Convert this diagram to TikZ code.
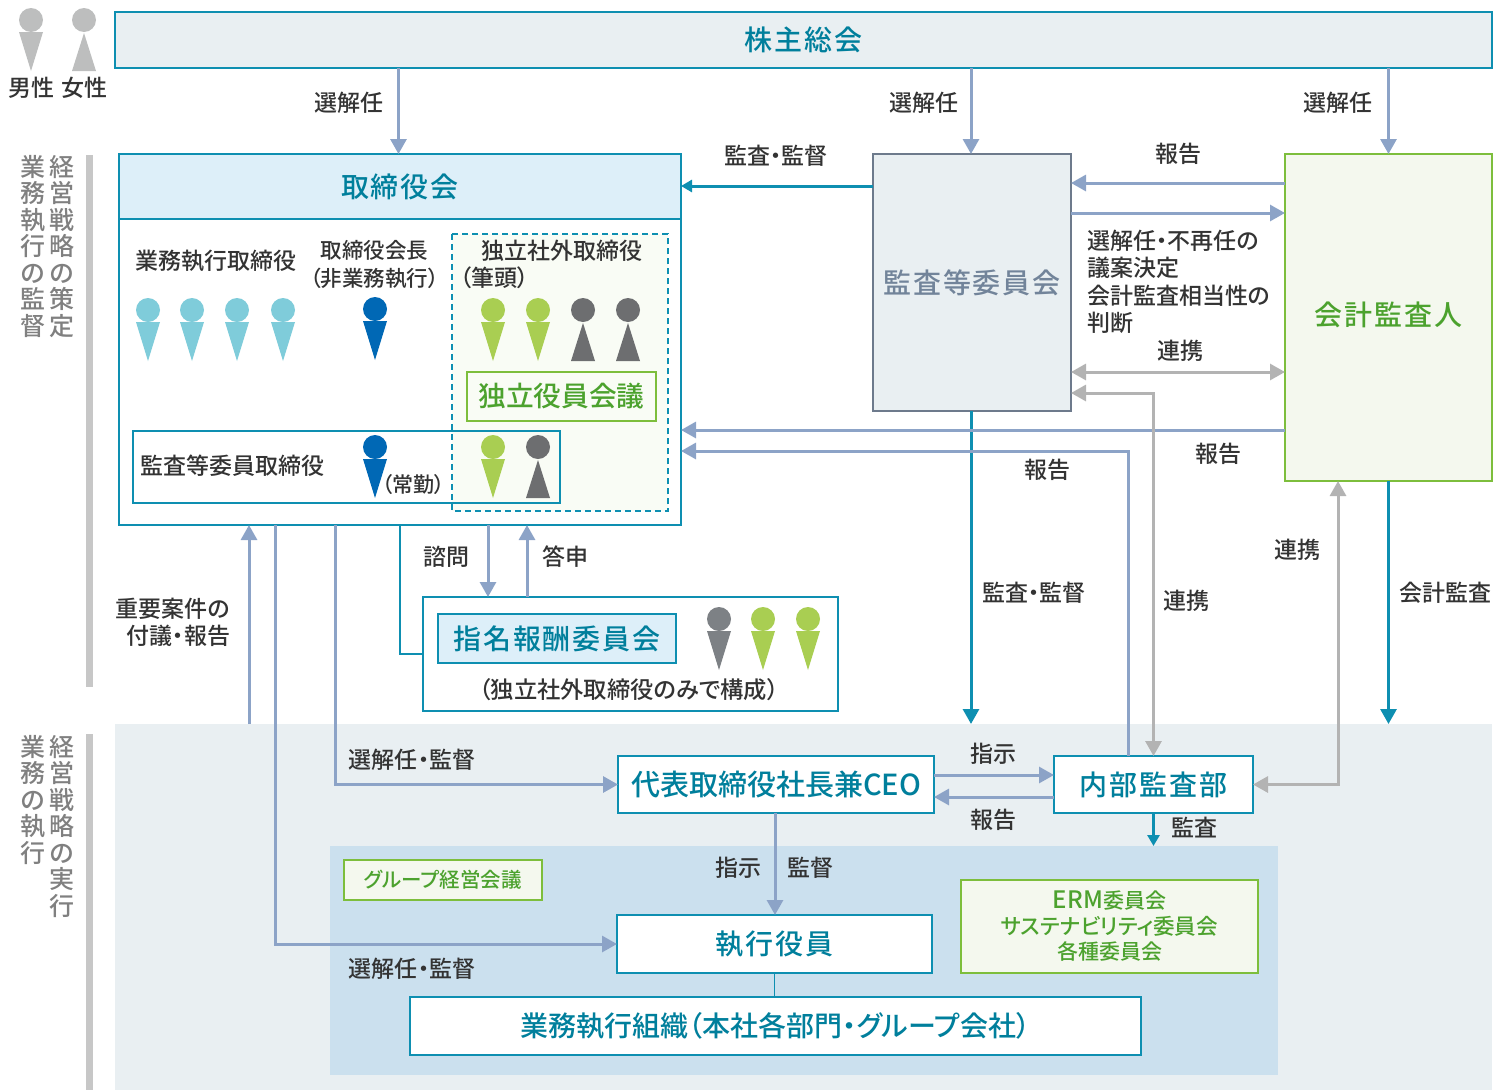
\documentclass[tikz,border=0pt]{standalone}
\usepackage{fontspec}
\setmainfont[RawFeature={+palt}]{Noto Sans CJK JP Medium}
\newfontfamily\wide[RawFeature={+palt},LetterSpace=7]{Noto Sans CJK JP Medium}
\usetikzlibrary{arrows.meta,calc}
\tikzset{>={Triangle[width=16pt,length=15pt]}}
\definecolor{teal}{HTML}{0E8FB1}
\definecolor{tealtext}{HTML}{007F9C}
\definecolor{steel}{HTML}{8CA3C7}
\definecolor{pale}{HTML}{E9EFF2}
\definecolor{sky}{HTML}{DDEFF9}
\definecolor{panel}{HTML}{CBE0EE}
\definecolor{lime}{HTML}{7DBE3C}
\definecolor{limefill}{HTML}{F4F8EE}
\definecolor{limepale}{HTML}{F9FCF5}
\definecolor{limetext}{HTML}{4CA22E}
\definecolor{slate}{HTML}{6D7A8C}
\definecolor{slatetext}{HTML}{72849A}
\definecolor{ash}{HTML}{B3B3B3}
\definecolor{aqua}{HTML}{7FCCDA}
\definecolor{navy}{HTML}{0068B5}
\definecolor{leaf}{HTML}{A9CE52}
\definecolor{coal}{HTML}{6D6E70}
\definecolor{iron}{HTML}{7D8185}
\definecolor{legend}{HTML}{BDBEBE}
\colorlet{ink}{black!80}
\tikzset{
  box/.style={draw=teal,line width=1.8,fill=white,inner sep=0,outer sep=0,text=tealtext,align=center},
  greenbox/.style={box,draw=lime,fill=limefill,text=limetext},
  small/.style={font=\fontsize{23}{27.2}\selectfont,text=ink,inner sep=0,align=left},
  big/.style={font=\wide\fontsize{28}{32}\selectfont},
  side/.style={font=\fontsize{25}{26.5}\selectfont,text=black!50,inner sep=0,align=center,anchor=north},
  link/.style={->,line width=3,steel},
  tie/.style={->,line width=3,teal},
  tiesmall/.style={-{Triangle[width=12pt,length=11pt]},line width=3,teal},
  mutual/.style={<->,line width=3,ash}
}
\def\man#1#2#3{
  \fill[#3] (#1,#2) circle (12);
  \fill[#3] (#1-12,#2+12) -- (#1+12,#2+12) -- (#1,#2+51) -- cycle;
}
\def\woman#1#2#3{
  \fill[#3] (#1,#2) circle (12);
  \fill[#3] (#1,#2+13) -- (#1+12,#2+51) -- (#1-12,#2+51) -- cycle;
}
\begin{document}
\begin{tikzpicture}[x=1pt,y=-1pt]
  \useasboundingbox (0,0) rectangle (1505,1090);

  % PANELS
  \fill[pale] (115,724) rectangle (1492,1090);
  \fill[panel] (330,846) rectangle (1278,1075);
  \fill[black!22] (86,155) rectangle (93,687);
  \fill[black!22] (86,734) rectangle (93,1090);

  % BOXES
  \node[box,fill=pale,big,minimum width=1377,minimum height=56] (SK) at (803.5,40) {株主総会};
  \node[box,minimum width=562,minimum height=371] (TR) at (400,339.5) {};
  \node[box,fill=sky,big,minimum width=562,minimum height=65] (TH) at (400,186.5) {取締役会};
  \node[box,fill=pale,draw=slate,text=slatetext,big,minimum width=198,minimum height=257] (KS) at (972,282.5) {監査等委員会};
  \node[greenbox,big,minimum width=207,minimum height=327] (KK) at (1388.5,317.5) {\raisebox{7pt}{会計監査人}};
  \draw[teal,line width=1.5,dash pattern=on 6 off 4,fill=limepale] (452,234) rectangle (668,511);
  \node[greenbox,fill=limepale,font=\fontsize{27.7}{32}\selectfont,minimum width=189,minimum height=49] (DY) at (561.5,396.5) {独立役員会議};
  \draw[teal,line width=1.8] (133,431) rectangle (560,503);
  \node[box,minimum width=415,minimum height=114] (SM) at (630.5,654) {};
  \node[box,fill=sky,big,minimum width=238,minimum height=49] (SH) at (557,638.5) {指名報酬委員会};
  \node[box,font=\fontsize{29}{32}\selectfont,minimum width=316,minimum height=57] (CEO) at (776,784.5) {代表取締役社長兼CEO};
  \node[box,big,minimum width=199,minimum height=57] (NB) at (1153.5,784.5) {内部監査部};
  \node[box,big,minimum width=315,minimum height=58] (SY) at (774.5,944) {執行役員};
  \node[box,font=\fontsize{28}{32}\selectfont,minimum width=731,minimum height=58] (SS) at (775.5,1026) {業務執行組織（本社各部門・グループ会社）};
  \node[greenbox,font=\fontsize{21}{25.5}\selectfont,minimum width=297,minimum height=93] (ER) at (1109.5,926.5) {{\fontsize{24}{25.5}\selectfont ERM}委員会\\{\fontsize{21.6}{25.5}\selectfont サステナビリティ委員会}\\各種委員会};
  \node[greenbox,font=\fontsize{20.5}{24}\selectfont,minimum width=198,minimum height=40] (GK) at (443,880) {グループ経営会議};

  % RAILS
  \coordinate (Ya) at (0,186);
  \coordinate (Yb) at (0,183);
  \coordinate (Yc) at (0,213);
  \coordinate (Yd) at (0,372);
  \coordinate (Ye) at (0,393);
  \coordinate (Yf) at (0,430);
  \coordinate (Yg) at (0,451);
  \coordinate (Yh) at (0,775);
  \coordinate (Yi) at (0,797);
  \coordinate (Xa) at (249,0);
  \coordinate (Xb) at (275,0);
  \coordinate (Xc) at (335,0);
  \coordinate (Xd) at (400,0);
  \coordinate (Xe) at (488,0);
  \coordinate (Xf) at (527,0);
  \coordinate (Xg) at (1128,0);
  \coordinate (Xh) at (1338,0);
  \coordinate (Xs) at (971,0);
  \coordinate (Xt) at (398.5,0);
  \coordinate (Xu) at (775,0);
  \coordinate (Ba) at (0,724);
  \coordinate (Bb) at (1153.5,846);

  % TEAL
  \draw[tiesmall] (KS.west |- Ya) -- (TH.east |- Ya);
  \draw[tie] (Xs |- KS.south) -- (Xs |- Ba);
  \draw[tie] (KK.south) -- (KK.south |- Ba);
  \draw[tiesmall] (NB.south) -- (Bb);
  \draw[teal,line width=1.5] (SY.south) -- (SY.south |- SS.north);
  \draw[teal,line width=1.5] (Xd |- TR.south) -- (Xd |- SM.west) -- (SM.west);

  % BLUE
  \draw[link] (SK.south -| Xt) -- (Xt |- TH.north);
  \draw[link] (SK.south -| Xs) -- (Xs |- KS.north);
  \draw[link] (SK.south -| KK.north) -- (KK.north);
  \draw[link] (KK.west |- Yb) -- (KS.east |- Yb);
  \draw[link] (KS.east |- Yc) -- (KK.west |- Yc);
  \draw[link] (KK.west |- Yf) -- (TR.east |- Yf);
  \draw[link] (NB.north -| Xg) -- (Xg |- Yg) -- (TR.east |- Yg);
  \draw[link] (Xa |- Ba) -- (Xa |- TR.south);
  \draw[link] (Xc |- TR.south) -- (Xc |- CEO.west) -- (CEO.west);
  \draw[link] (Xb |- TR.south) -- (Xb |- SY.west) -- (SY.west);
  \draw[link] (Xe |- TR.south) -- (Xe |- SM.north);
  \draw[link] (Xf |- SM.north) -- (Xf |- TR.south);
  \draw[link] (CEO.east |- Yh) -- (NB.west |- Yh);
  \draw[link] (NB.west |- Yi) -- (CEO.east |- Yi);
  \draw[link] (Xu |- CEO.south) -- (Xu |- SY.north);

  % GRAY
  \draw[mutual] (KS.east |- Yd) -- (KK.west |- Yd);
  \draw[mutual] (KS.east |- Ye) -- (NB.north |- Ye) -- (NB.north);
  \draw[mutual] (NB.east) -- (Xh |- NB.east) -- (Xh |- KK.south);

  % LABELS
  \node[small] (La) at (349,103) {選解任};
  \node[small] (Lb) at (924,103) {選解任};
  \node[small] (Lc) at (1338,103) {選解任};
  \node[small] (Ld) at (776,156) {監査・監督};
  \node[small] (Le) at (1178,154) {報告};
  \node[small,anchor=north west] (Lf) at (1087,230) {選解任・不再任の\\議案決定\\会計監査相当性の\\判断};
  \node[small] (Lg) at (1180,351) {連携};
  \node[small] (Lh) at (1218,454) {報告};
  \node[small] (Li) at (1047,470) {報告};
  \node[small] (Lj) at (1034,593) {監査・監督};
  \node[small] (Lk) at (1186,601) {連携};
  \node[small] (Ll) at (1297,550) {連携};
  \node[small] (Lm) at (1445,593) {会計監査};
  \node[small] (Ln) at (446,557) {諮問};
  \node[small] (Lo) at (565,557) {答申};
  \node[small,align=right] (Lp) at (173,622.5) {重要案件の\\付議・報告};
  \node[small] (Lq) at (412,760) {選解任・監督};
  \node[small] (Lr) at (412,969) {選解任・監督};
  \node[small] (Ls) at (993,754) {指示};
  \node[small] (Lt) at (993,820) {報告};
  \node[small] (Lu) at (1194,828) {監査};
  \node[small] (Lv) at (738,868) {指示};
  \node[small] (Lw) at (810,868) {監督};
  \node[small] (Lx) at (32,88) {男性};
  \node[small] (Ly) at (84,88) {女性};
  \node[small] (Lz) at (216,261) {業務執行取締役};
  \node[small,align=center,font=\fontsize{21.5}{27.2}\selectfont] (Ma) at (374.5,264.5) {取締役会長\\（非業務執行）};
  \node[small,anchor=west] (Mb) at (481,251) {独立社外取締役};
  \node[small,anchor=west] (Mc) at (460,278) {（筆頭）};
  \node[small] (Md) at (232,466) {監査等委員取締役};
  \node[small,font=\fontsize{21}{24}\selectfont] (Me) at (413.5,485) {（常勤）};
  \node[small,font=\fontsize{23.3}{27}\selectfont] (Mf) at (629,690) {（独立社外取締役のみで構成）};
  \node[side] (Sa) at (33,155) {業\\務\\執\\行\\の\\監\\督};
  \node[side] (Sb) at (62,155) {経\\営\\戦\\略\\の\\策\\定};
  \node[side] (Sc) at (33,735) {業\\務\\の\\執\\行};
  \node[side] (Sd) at (62,735) {経\\営\\戦\\略\\の\\実\\行};

  % PEOPLE
  \man{31}{20}{legend}
  \woman{84}{20}{legend}
  \foreach \x in {148,192,237,283} {\man{\x}{310}{aqua}}
  \man{375}{309}{navy}
  \man{493}{310}{leaf}
  \man{538}{310}{leaf}
  \woman{583}{310}{coal}
  \woman{628}{310}{coal}
  \man{375}{447}{navy}
  \man{493}{447}{leaf}
  \woman{538}{447}{coal}
  \man{719}{619}{iron}
  \man{763}{619}{leaf}
  \man{808}{619}{leaf}
\end{tikzpicture}
\end{document}
